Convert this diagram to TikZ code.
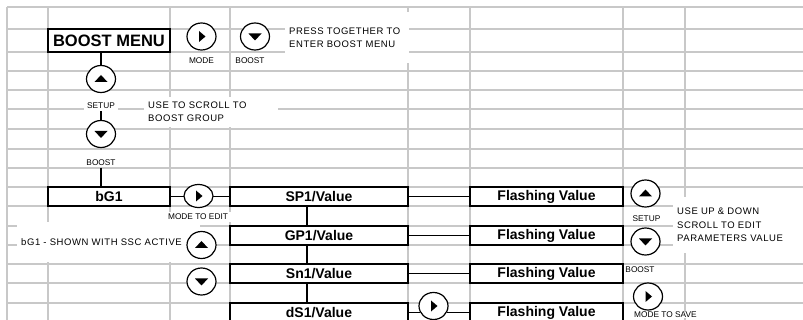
\documentclass[tikz,border=0pt]{standalone}
\usepackage{fontspec}
\setmainfont{Liberation Sans}
\newfontfamily\notefont[LetterSpace=6]{Liberation Sans}
\usepackage{xcolor}
\usetikzlibrary{shapes.geometric,positioning,calc}
\definecolor{gridgray}{RGB}{200,200,200}

\tikzset{
  gridline/.style={gridgray, line width=1.5pt},
  cellbox/.style={draw, fill=white, line width=1.8pt, inner sep=0pt,
    font=\fontsize{14}{16}\selectfont\bfseries},
  btn/.style={ellipse, draw, fill=white, line width=1.2pt, inner sep=0pt,
    minimum width=29pt, minimum height=27pt},
  upkey/.style={btn, path picture={\fill[black] ([shift={(-6.5,3)}]path picture bounding box.center)
    -- ++(13,0) -- ++(-6.5,-7) -- cycle;}},
  downkey/.style={btn, path picture={\fill[black] ([shift={(-6.5,-3)}]path picture bounding box.center)
    -- ++(13,0) -- ++(-6.5,7) -- cycle;}},
  modekey/.style={btn, path picture={\fill[black] ([shift={(-2.5,-5.5)}]path picture bounding box.center)
    -- ++(0,11) -- ++(6.5,-5.5) -- cycle;}},
  keylabel/.style={fill=white, inner xsep=3pt, inner ysep=2pt, font=\fontsize{8.3}{9}\selectfont},
  note/.style={fill=white, align=left, inner xsep=4pt, font=\notefont\fontsize{9.5}{13.4}\selectfont},
  link/.style={line width=1.8pt},
}

\begin{document}
\begin{tikzpicture}[x=1pt, y=-1pt]
  \useasboundingbox (0,0) rectangle (803,320);

  % The spreadsheet grid
  \foreach \y in {7,29,52,71,90,109,129,149,168,187,206,226,245,264,283,303}
    \draw[gridline] (7,\y) -- (803,\y);
  \foreach \x in {7,48,170,230,408,470,623,685}
    \draw[gridline] (\x,7) -- (\x,320);

  % Notes
  \node[note, anchor=west, minimum height=51pt, text width=116pt] (presstxt) at (285,37.5)
    {PRESS TOGETHER TO\\ENTER BOOST MENU};
  \node[note, anchor=west, minimum height=30pt, text width=126pt] (scrolltxt) at (144,112)
    {USE TO SCROLL TO\\BOOST GROUP};
  \node[note, anchor=west, minimum height=40pt, text width=175pt] (ssctxt) at (17,242.5)
    {bG1 - SHOWN WITH SSC ACTIVE};
  \node[note, anchor=west, minimum height=56pt, text width=122pt] (edittxt) at (673,225)
    {USE UP \& DOWN\\SCROLL TO EDIT\\PARAMETERS VALUE};

  % Key labels
  \node[keylabel] (modelbl) at (201.5,61) {MODE};
  \node[keylabel] (boostlbltop) at (250,61) {BOOST};
  \node[keylabel] (setuplbl) at (101,106) {SETUP};
  \node[keylabel] (boostlbl) at (101,162.5) {BOOST};
  \node[keylabel] (editlbl) at (198,217) {MODE TO EDIT};
  \node[keylabel] (setuplblr) at (646.5,219) {SETUP};
  \node[keylabel] (boostlblr) at (640,270) {BOOST};
  \node[keylabel, anchor=north west, inner sep=0pt] (savelbl) at (634,312) {MODE TO SAVE};

  % Menu boxes
  \node[cellbox, line width=2.8pt, minimum width=122pt, minimum height=23pt,
    font=\fontsize{16.5}{18}\selectfont\bfseries] (menu) at (109,40.5) {BOOST MENU};
  \node[cellbox, minimum width=122pt, minimum height=19pt] (bg1) at (109,196.5) {bG1};
  \node[cellbox, minimum width=178pt, minimum height=19pt] (sp1) at (319,196.5) {SP1/Value};
  \node[cellbox, minimum width=178pt, minimum height=19pt] (gp1) at (319,235.5) {GP1/Value};
  \node[cellbox, minimum width=178pt, minimum height=19pt] (sn1) at (319,273.5) {Sn1/Value};
  \node[cellbox, minimum width=178pt, minimum height=19pt] (ds1) at (319,312.5) {dS1/Value};
  \foreach \n/\y in {fv1/196.5, fv2/235.5, fv3/273.5, fv4/312.5}
    \node[cellbox, minimum width=153pt, minimum height=19pt] (\n) at (546.5,\y) {Flashing Value};

  % Connectors
  \draw[link] (menu.south -| setuplbl) -- (setuplbl |- 0,65);
  \draw[link] (setuplbl.south) -- (setuplbl.south |- 0,121);
  \draw[link] (boostlbl.south) -- (boostlbl.south |- bg1.north);
  \draw[link] (bg1.east) -- (bg1.east -| 184,0);
  \draw[link] (sp1.west -| 213,0) -- (sp1.west);
  \foreach \a/\b in {sp1/gp1, gp1/sn1, sn1/ds1}
    \draw[link] ([xshift=-12pt]\a.south) -- ([xshift=-12pt]\b.north);
  \foreach \a/\b in {sp1/fv1, gp1/fv2, sn1/fv3}
    \draw[link] (\a.east) -- (\b.west);
  \draw[link] (ds1.east) -- (ds1.east -| 420,0);
  \draw[link] (fv4.west -| 447,0) -- (fv4.west);

  % Buttons
  \node[modekey] (modetop) at (201.5,36.5) {};
  \node[downkey] (boosttop) at (255,36.5) {};
  \node[upkey] (setupl) at (101,79) {};
  \node[downkey] (boostl) at (101,134) {};
  \node[modekey, minimum height=23pt] (editkey) at (198.5,196) {};
  \node[upkey] (upmid) at (201.5,245) {};
  \node[downkey] (downmid) at (201.5,281.5) {};
  \node[modekey] (savekey) at (433.5,306) {};
  \node[upkey] (setupr) at (645.5,193.5) {};
  \node[downkey] (boostr) at (645.5,241.5) {};
  \node[modekey] (saver) at (648,296.5) {};
\end{tikzpicture}
\end{document}
